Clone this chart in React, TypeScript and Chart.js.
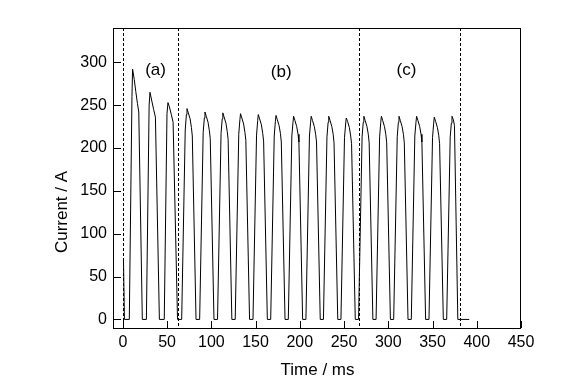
import React, { useEffect, useRef } from "react";
import { Chart, registerables } from "chart.js";

Chart.register(...registerables);

// ---- Data ----
// Phase (a): start-up spike and three large pulses
const timeA = [
  0.7, 1.8,
  7.3, 10.3, 11.0, 12.9, 14.6, 16.5, 18.0, 22.0,
  26.6, 29.7, 30.7, 32.5, 34.8, 36.8, 41.3,
  46.8, 49.9, 51.0, 52.6, 54.8, 56.8, 61.8,
];
const currentA = [
  71, 0,
  0, 260, 292, 280, 266, 252, 242, 0,
  0, 250, 265, 256, 245, 236, 0,
  0, 240, 253, 248, 239, 230, 0,
];

// Phase (b): ten pulses
const timeB = [
  66.5, 70.5, 71.8, 72.5, 74.0, 76.0, 77.5, 78.5, 82.7,
  86.8, 90.8, 92.1, 92.8, 94.3, 96.3, 97.8, 98.8, 103.0,
  107.0, 111.0, 112.3, 113.0, 114.5, 116.5, 118.0, 119.0, 123.2,
  127.0, 131.0, 132.3, 133.0, 134.5, 136.5, 138.0, 139.0, 143.2,
  147.1, 151.1, 152.4, 153.1, 154.6, 156.6, 158.1, 159.1, 163.3,
  167.1, 171.1, 172.4, 173.1, 174.6, 176.6, 178.1, 179.1, 183.3,
  187.0, 191.0, 192.3, 193.0, 194.5, 196.5, 198.0, 199.0, 203.2,
  206.9, 210.9, 212.2, 212.9, 214.4, 216.4, 217.9, 218.9, 223.1,
  226.7, 230.7, 232.0, 232.7, 234.2, 236.2, 237.7, 238.7, 242.9,
  246.5, 250.5, 251.8, 252.5, 254.0, 256.0, 257.5, 258.5, 262.7,
];
const currentB = [
  0, 221, 239, 246, 241, 234, 224, 214, 0,
  0, 218, 235, 242, 237, 230, 220, 211, 0,
  0, 217, 234, 241, 236, 229, 219, 210, 0,
  0, 216, 233, 240, 235, 228, 218, 209, 0,
  0, 215, 232, 239, 234, 227, 217, 208, 0,
  0, 214, 231, 238, 233, 226, 217, 207, 0,
  0, 214, 230, 237, 232, 225, 216, 207, 0,
  0, 214, 230, 237, 232, 225, 216, 207, 0,
  0, 213, 230, 237, 232, 225, 216, 206, 0,
  0, 212, 228, 235, 231, 224, 214, 205, 0,
];

// Phase (c): six pulses and the tail
const timeC = [
  266.4, 270.4, 271.7, 272.4, 273.9, 275.9, 277.4, 278.4, 282.6,
  286.2, 290.2, 291.5, 292.2, 293.7, 295.7, 297.2, 298.2, 302.4,
  306.1, 310.1, 311.4, 312.1, 313.6, 315.6, 317.1, 318.1, 322.3,
  326.0, 330.0, 331.3, 332.0, 333.5, 335.5, 337.0, 338.0, 342.2,
  346.0, 350.0, 351.3, 352.0, 353.5, 355.5, 357.0, 358.0, 362.2,
  366.0, 370.0, 371.3, 372.0, 373.6, 374.8, 378.6, 391.5,
];
const currentC = [
  0, 213, 230, 237, 232, 225, 216, 206, 0,
  0, 213, 230, 237, 232, 225, 216, 206, 0,
  0, 213, 230, 237, 232, 225, 216, 206, 0,
  0, 214, 230, 237, 232, 225, 216, 207, 0,
  0, 212, 229, 236, 231, 224, 215, 205, 0,
  0, 213, 229, 237, 233, 226, 0, 0,
];

const xTickValues = [0, 50, 100, 150, 200, 250, 300, 350, 400, 450];
const yTickValues = [0, 50, 100, 150, 200, 250, 300];
const phaseBounds = [0, 62, 266.5, 381];
const phaseLabels = ["(a)", "(b)", "(c)"];
const phaseLabelX = [37, 179, 320.5];
const phaseLabelY = [291, 288, 291];
const xTitle = "Time / ms";
const yTitle = "Current / A";

const FONT = "'Liberation Sans', Arial, Helvetica, sans-serif";

export default function App() {
  const canvasRef = useRef<HTMLCanvasElement | null>(null);

  useEffect(() => {
    document.body.style.margin = "0";
    const canvas = canvasRef.current;
    if (!canvas) return;

    const times = [...timeA, ...timeB, ...timeC];
    const currents = [...currentA, ...currentB, ...currentC];
    const points = times.map((t, i) => ({ x: t, y: currents[i] }));

    const overlay = {
      id: "overlay",
      beforeDatasetsDraw(chart: any) {
        const { ctx, chartArea, scales } = chart;
        const xs = scales.x;
        ctx.save();
        ctx.strokeStyle = "#000";
        ctx.lineWidth = 1;
        ctx.setLineDash([3, 2]);
        phaseBounds.forEach((b) => {
          const px = Math.round(xs.getPixelForValue(b)) + 0.5;
          ctx.beginPath();
          ctx.moveTo(px, chartArea.top);
          ctx.lineTo(px, chartArea.bottom);
          ctx.stroke();
        });
        ctx.restore();
      },
      afterDraw(chart: any) {
        const { ctx, chartArea, scales } = chart;
        const xs = scales.x;
        const ys = scales.y;
        const { left, right, top, bottom } = chartArea;
        ctx.save();
        ctx.strokeStyle = "#000";
        ctx.lineWidth = 1;
        ctx.setLineDash([]);
        ctx.strokeRect(Math.round(left) - 0.5, Math.round(top) + 0.5, Math.round(right - left), Math.round(bottom - top));
        // inward ticks
        ctx.beginPath();
        xTickValues.forEach((v) => {
          const px = Math.round(xs.getPixelForValue(v)) + 0.5;
          ctx.moveTo(px, bottom);
          ctx.lineTo(px, bottom - 7);
        });
        yTickValues.forEach((v) => {
          const py = Math.round(ys.getPixelForValue(v)) + 0.5;
          ctx.moveTo(left, py);
          ctx.lineTo(left + 7, py);
        });
        ctx.stroke();
        // phase labels
        ctx.fillStyle = "#000";
        ctx.font = `17px ${FONT}`;
        ctx.textAlign = "center";
        ctx.textBaseline = "middle";
        phaseLabels.forEach((lab, i) => {
          ctx.fillText(lab, xs.getPixelForValue(phaseLabelX[i]), ys.getPixelForValue(phaseLabelY[i]));
        });
        // axis titles
        ctx.fillText(xTitle, (left + right) / 2, 370);
        ctx.translate(62, 212);
        ctx.rotate(-Math.PI / 2);
        ctx.fillText(yTitle, 0, 0);
        ctx.restore();
      },
    };

    const chart = new Chart(canvas, {
      type: "line",
      data: {
        datasets: [
          {
            data: points,
            borderColor: "#000",
            borderWidth: 1,
            pointRadius: 0,
            tension: 0,
            fill: false,
          },
        ],
      },
      options: {
        animation: false,
        responsive: false,
        events: [],
        layout: { padding: { left: 0, top: 28, right: 40, bottom: 0 } },
        plugins: { legend: { display: false }, tooltip: { enabled: false } },
        scales: {
          x: {
            type: "linear",
            min: -10,
            max: 450,
            grid: { display: false, drawTicks: false },
            border: { display: false },
            afterBuildTicks: (s: any) => {
              s.ticks = xTickValues.map((v) => ({ value: v }));
            },
            afterFit: (s: any) => {
              s.height = 59;
            },
            ticks: {
              color: "#000",
              padding: 5,
              maxRotation: 0,
              autoSkip: false,
              font: { family: FONT, size: 16 },
            },
          },
          y: {
            type: "linear",
            min: -10,
            max: 340,
            grid: { display: false, drawTicks: false },
            border: { display: false },
            afterBuildTicks: (s: any) => {
              s.ticks = yTickValues.map((v) => ({ value: v }));
            },
            afterFit: (s: any) => {
              s.width = 114;
            },
            ticks: {
              color: "#000",
              padding: 7,
              autoSkip: false,
              font: { family: FONT, size: 16 },
            },
          },
        },
      },
      plugins: [overlay],
    });

    return () => chart.destroy();
  }, []);

  return (
    <div style={{ width: 561, height: 387, background: "#fff" }}>
      <canvas ref={canvasRef} width={561} height={387} />
    </div>
  );
}
